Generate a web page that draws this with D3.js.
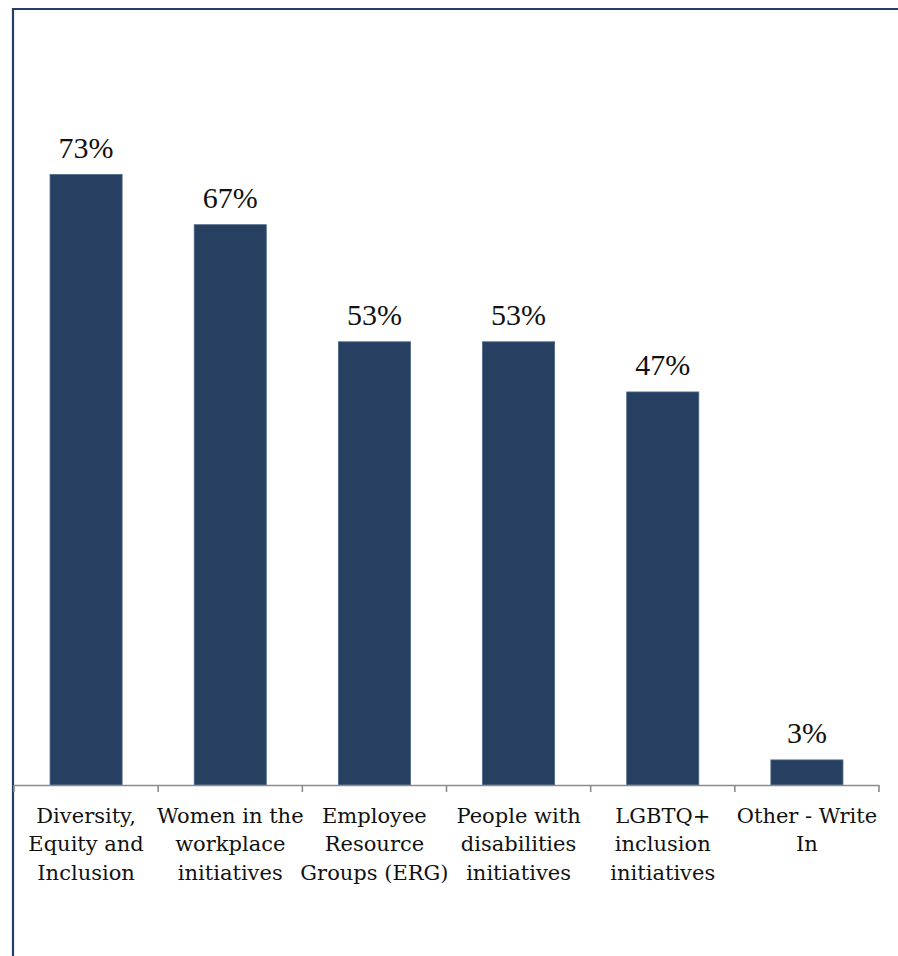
<!DOCTYPE html>
<html>
<head>
<meta charset="utf-8">
<script src="https://cdn.jsdelivr.net/npm/d3@7"></script>
<style>
  html, body { margin: 0; padding: 0; background: #fff; }
  svg { display: block; }
</style>
</head>
<body>
<svg id="chart" width="898" height="956"></svg>
<script>
// Share of respondents by initiative type
const categories = [
  "Diversity,\nEquity and\nInclusion",
  "Women in the\nworkplace\ninitiatives",
  "Employee\nResource\nGroups (ERG)",
  "People with\ndisabilities\ninitiatives",
  "LGBTQ+\ninclusion\ninitiatives",
  "Other - Write\nIn"
];
const values = [73, 67, 53, 53, 47, 3];
const yDomain = [0, 80];

const svg = d3.select("#chart");
const W = 898, H = 956;
const plot = { left: 14, right: 879, top: 116, bottom: 785 };

// Frame: top and left rules
svg.append("line")
  .attr("x1", 13).attr("x2", W).attr("y1", 9).attr("y2", 9)
  .attr("stroke", "#243f60").attr("stroke-width", 2.2);
svg.append("line")
  .attr("x1", 13).attr("x2", 13).attr("y1", 8).attr("y2", H)
  .attr("stroke", "#243f60").attr("stroke-width", 2.2);

const x = d3.scaleBand()
  .domain(categories)
  .range([plot.left, plot.right])
  .paddingInner(0.5)
  .paddingOuter(0.25);

const y = d3.scaleLinear()
  .domain(yDomain)
  .range([plot.bottom, plot.top]);

// Bars
svg.append("g")
  .selectAll("rect")
  .data(values)
  .join("rect")
  .attr("x", (d, i) => x(categories[i]))
  .attr("y", d => y(d))
  .attr("width", x.bandwidth())
  .attr("height", d => y(0) - y(d))
  .attr("fill", "#274062")
  .attr("stroke", "#4a6588")
  .attr("stroke-width", 0.8);

// Value labels
svg.append("g")
  .selectAll("text")
  .data(values)
  .join("text")
  .attr("x", (d, i) => x(categories[i]) + x.bandwidth() / 2)
  .attr("y", d => y(d) - 17)
  .attr("text-anchor", "middle")
  .attr("font-family", "'Liberation Serif', serif")
  .attr("font-size", 30)
  .attr("fill", "#111")
  .text(d => d + "%");

// Category axis with ticks between categories
const step = (plot.right - plot.left) / categories.length;
const axisG = svg.append("g");
axisG.append("line")
  .attr("x1", plot.left).attr("x2", plot.right)
  .attr("y1", plot.bottom + 0.5).attr("y2", plot.bottom + 0.5)
  .attr("stroke", "#8c8c8c").attr("stroke-width", 1.6);
axisG.selectAll(".tick")
  .data(d3.range(categories.length + 1))
  .join("line")
  .attr("class", "tick")
  .attr("x1", i => plot.left + i * step)
  .attr("x2", i => plot.left + i * step)
  .attr("y1", plot.bottom)
  .attr("y2", plot.bottom + 7)
  .attr("stroke", "#8c8c8c").attr("stroke-width", 1.6);

// Category labels, wrapped
const labels = svg.append("g")
  .selectAll("text")
  .data(categories)
  .join("text")
  .attr("text-anchor", "middle")
  .attr("font-family", "'DejaVu Serif', serif")
  .attr("font-size", 21)
  .attr("fill", "#111");
labels.each(function (c) {
  const t = d3.select(this);
  const cx = x(c) + x.bandwidth() / 2;
  c.split("\n").forEach((line, k) => {
    t.append("tspan")
      .attr("x", cx)
      .attr("y", 823 + k * 28.4)
      .text(line);
  });
});
</script>
</body>
</html>
